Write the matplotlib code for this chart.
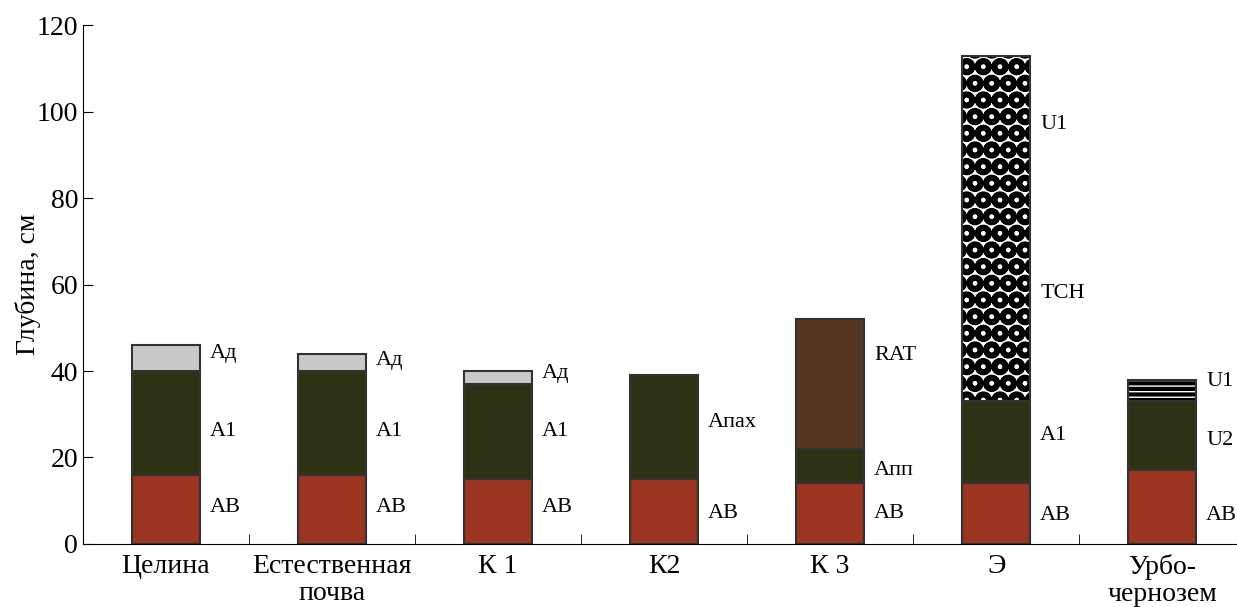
import numpy as np
import matplotlib.pyplot as plt
from matplotlib.ticker import FixedLocator

plt.rcParams['font.family'] = ['Liberation Serif', 'DejaVu Serif']
plt.rcParams['hatch.linewidth'] = 3.0

# profile names (x categories)
sites = ["Целина", "Естественная\nпочва", "К 1", "К2", "К 3", "Э", "Урбо-\nчернозем"]

# horizon layers per profile: (name, bottom, top, style, label y)
layers = [
    [("AB", 0, 16, "ab", 8.5), ("A1", 16, 40, "a1", 26), ("Ад", 40, 46, "ad", 44)],
    [("AB", 0, 16, "ab", 8.5), ("A1", 16, 40, "a1", 26), ("Ад", 40, 44, "ad", 42.5)],
    [("AB", 0, 15, "ab", 8.5), ("A1", 15, 37, "a1", 26), ("Ад", 37, 40, "ad", 39.5)],
    [("AB", 0, 15, "ab", 7), ("Апах", 15, 39, "a1", 28)],
    [("AB", 0, 14, "ab", 7), ("Апп", 14, 22, "a1", 17), ("RAT", 22, 52, "rat", 43.5)],
    [("AB", 0, 14, "ab", 6.5), ("A1", 14, 33, "a1", 25), ("TCH", 33, 113, "tch", 58), ("U1", None, None, "tch", 97)],
    [("AB", 0, 17, "ab", 6.5), ("U2", 17, 33, "a1", 24), ("U1", 33, 38, "u1", 37.5)],
]

styles = {
    "ab": dict(color="#9B3420", hatch=None, hc=None, hlw=None),
    "a1": dict(color="#2F3115", hatch=None, hc=None, hlw=None),
    "ad": dict(color="#C9C9C9", hatch=None, hc=None, hlw=None),
    "rat": dict(color="#543622", hatch=None, hc=None, hlw=None),
    "tch": dict(color="white", hatch="O", hc="black", hlw=4.0),
    "u1": dict(color="black", hatch="---", hc="white", hlw=1.0),
}

fig, ax = plt.subplots(figsize=(12.37, 6.07), dpi=100)
x = np.arange(len(sites))
width = 0.41

for i, prof in enumerate(layers):
    for name, b, t, st, ly in prof:
        if b is not None:
            s = styles[st]
            if s["hatch"]:
                bars = ax.bar(x[i], t - b, width, bottom=b, color=s["color"], hatch=s["hatch"],
                              edgecolor=s["hc"], linewidth=0)
                for p in bars:
                    try:
                        p.set_hatch_linewidth(s["hlw"])
                    except AttributeError:
                        pass
                ax.bar(x[i], t - b, width, bottom=b, fill=False, edgecolor="#333333", linewidth=1.5)
            else:
                ax.bar(x[i], t - b, width, bottom=b, color=s["color"],
                       edgecolor="#333333", linewidth=1.5)
        ax.text(x[i] + width / 2 + 0.06, ly, name, fontsize=16, va="center", ha="left")

ax.set_xlim(-0.5, 6.45)
ax.set_ylim(0, 120)
ax.set_yticks(np.arange(0, 121, 20))
ax.set_xticks(x)
ax.set_xticklabels(sites, fontsize=20, linespacing=1.15)
ax.xaxis.set_minor_locator(FixedLocator(x[:-1] + 0.5))
ax.tick_params(axis="x", which="major", length=0, pad=7)
ax.tick_params(axis="x", which="minor", direction="in", length=7)
ax.tick_params(axis="y", direction="in", length=7, labelsize=20)
ax.set_ylabel("Глубина, см", fontsize=20, labelpad=-3)

for sp in ["top", "right"]:
    ax.spines[sp].set_visible(False)

plt.subplots_adjust(left=0.067, right=1.0, top=0.958, bottom=0.104)
plt.savefig("out.png", dpi=100)
